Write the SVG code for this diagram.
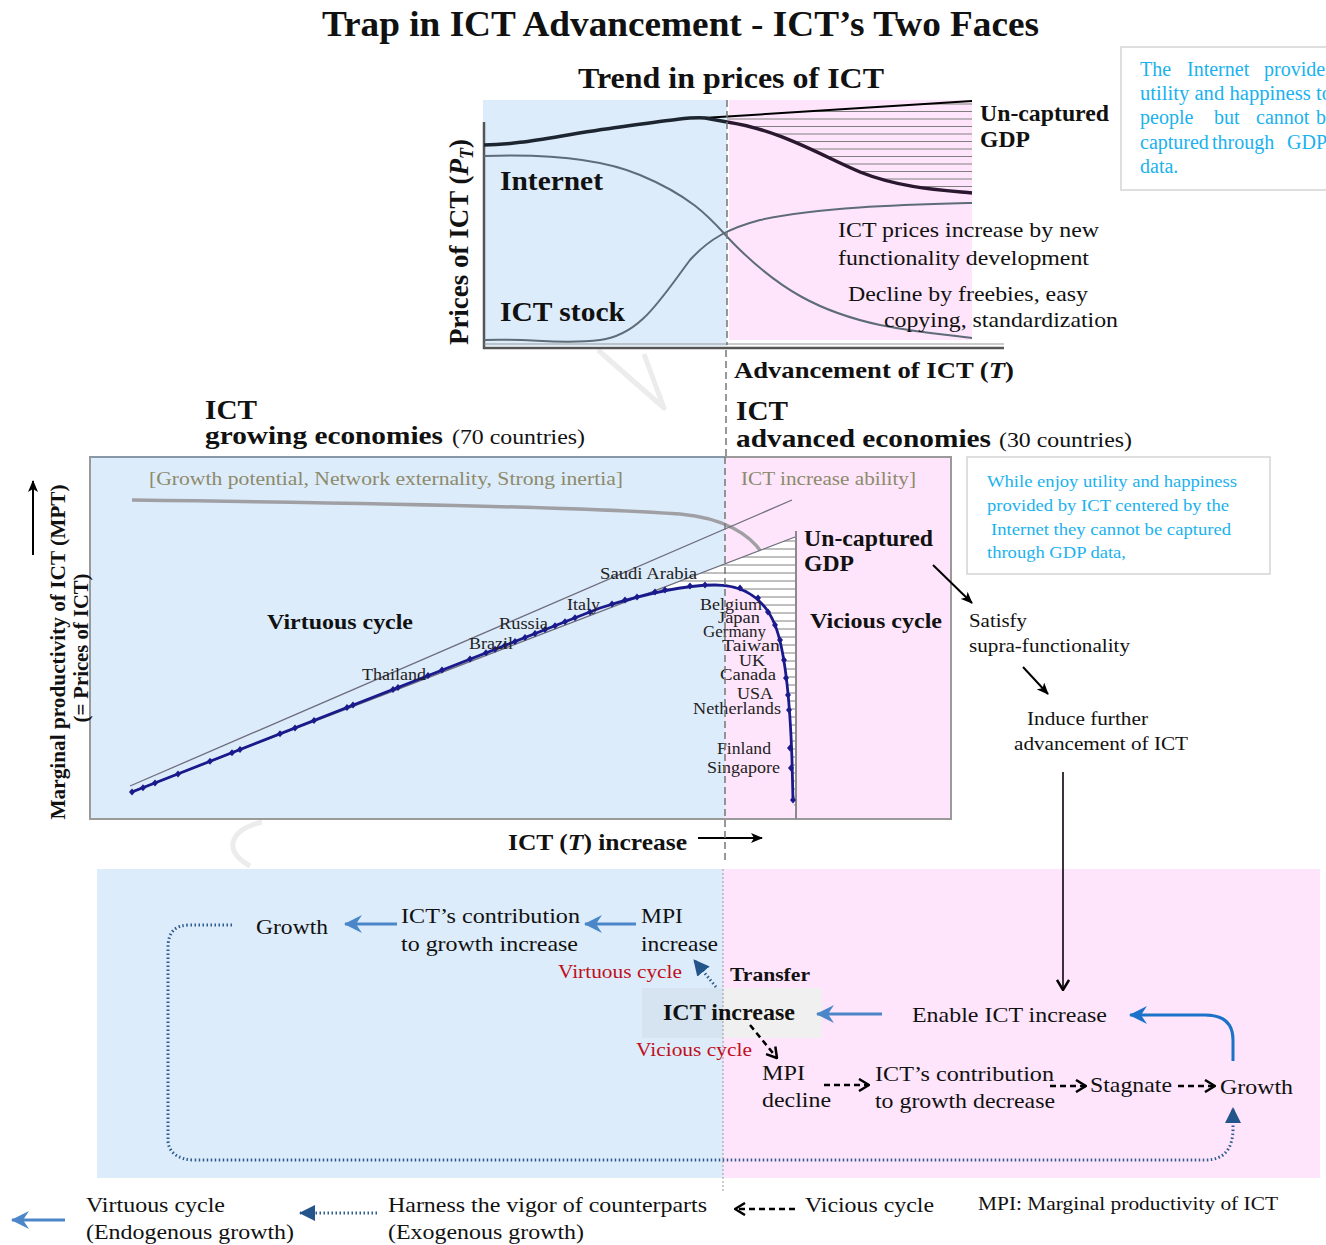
<svg xmlns="http://www.w3.org/2000/svg" width="1326" height="1245" viewBox="0 0 1326 1245">
  <style>
    text { font-family: "Liberation Serif", "Times New Roman", serif; fill: #111; }
    .b { font-weight: bold; }
    .cy { fill: #1AB2EE; font-size: 20px; }
    .cy2 { fill: #1AB2EE; font-size: 17px; }
    .ol { fill: #8C8A6C; font-size: 19px; }
    .red { fill: #C0101C; font-size: 19px; }
    .cty { font-size: 16.5px; fill: #222; }
    .lbl { font-size: 21px; }
    .hatch line { stroke: #808080; stroke-width: 1; }
    .dv { stroke: #777; stroke-width: 1.5; stroke-dasharray: 7 4; }
    .bl { stroke: #4A86C8; stroke-width: 3; fill: none; }
    .dsh { stroke: #000; stroke-width: 2.5; stroke-dasharray: 6 4; fill: none; }
    .dot { stroke: #2E5C8F; stroke-width: 3; stroke-dasharray: 1.5 2.5; fill: none; }
    .ar { stroke: #000; stroke-width: 2; fill: none; }
  </style>
  <defs>
    <marker id="mBlk" viewBox="0 0 12 10" refX="11" refY="5" markerWidth="12" markerHeight="10" markerUnits="userSpaceOnUse" orient="auto">
      <path d="M0,0 L12,5 L0,10 L3,5 Z" fill="#000"/>
    </marker>
    <marker id="mBlue" viewBox="0 0 18 18" refX="17" refY="9" markerWidth="18" markerHeight="18" markerUnits="userSpaceOnUse" orient="auto">
      <path d="M18,9 L0,0 L6,9 L0,18 Z" fill="#4A86C8"/>
    </marker>
    <marker id="mBlue2" viewBox="0 0 18 18" refX="17" refY="9" markerWidth="18" markerHeight="18" markerUnits="userSpaceOnUse" orient="auto">
      <path d="M18,9 L0,0 L6,9 L0,18 Z" fill="#1A73C8"/>
    </marker>
    <marker id="mTri" viewBox="0 0 16 16" refX="15" refY="8" markerWidth="16" markerHeight="16" markerUnits="userSpaceOnUse" orient="auto">
      <path d="M0,0 L16,8 L0,16 Z" fill="#24558A"/>
    </marker>
    <marker id="mChev" viewBox="0 0 12 14" refX="11" refY="7" markerWidth="12" markerHeight="14" markerUnits="userSpaceOnUse" orient="auto">
      <path d="M1,1 L11,7 L1,13" stroke="#000" stroke-width="2.5" fill="none"/>
    </marker>
    <path id="dia" d="M0,-3.5 L3,0 L0,3.5 L-3,0 Z" fill="#1A1A8C"/>
    <clipPath id="clipTop">
      <path d="M727,117 L972,101 L972,193 C940,190 900,188 860,172 C820,155 780,130 727,122 Z"/>
    </clipPath>
    <clipPath id="clipMid">
      <path d="M650,593 L795,537 L795,812 L793,800 L792,760 C790,700 785,650 775,625 C765,600 745,585 715,585 C690,585 670,589 650,593 Z"/>
    </clipPath>
  </defs>

  <!-- title -->
  <g id="title">
    <text class="b" x="322" y="36" font-size="35" textLength="717" lengthAdjust="spacingAndGlyphs">Trap in ICT Advancement - ICT&#8217;s Two Faces</text>
  </g>

  <!-- faint background marks -->
  <g id="marks" fill="none" stroke="#ececec" stroke-width="5" stroke-linejoin="round">
    <path d="M598,350 L664,408 L644,354"/>
    <path d="M262,822 C230,830 222,850 250,866"/>
  </g>

  <!-- price trend chart -->
  <g id="trend-chart">
    <text class="b" x="578" y="88" font-size="30" textLength="306" lengthAdjust="spacingAndGlyphs">Trend in prices of ICT</text>
    <rect x="483" y="100" width="244" height="246" fill="#DDECFB"/>
    <rect x="729" y="100" width="243" height="240" fill="#FEE5FB"/>
    <g class="hatch" clip-path="url(#clipTop)">
      <line x1="727" y1="104" x2="972" y2="104"/>
      <line x1="727" y1="111.5" x2="972" y2="111.5"/>
      <line x1="727" y1="119" x2="972" y2="119"/>
      <line x1="727" y1="126.5" x2="972" y2="126.5"/>
      <line x1="727" y1="134" x2="972" y2="134"/>
      <line x1="727" y1="141.5" x2="972" y2="141.5"/>
      <line x1="727" y1="149" x2="972" y2="149"/>
      <line x1="727" y1="156.5" x2="972" y2="156.5"/>
      <line x1="727" y1="164" x2="972" y2="164"/>
      <line x1="727" y1="171.5" x2="972" y2="171.5"/>
      <line x1="727" y1="179" x2="972" y2="179"/>
      <line x1="727" y1="186.5" x2="972" y2="186.5"/>
    </g>
    <!-- axes -->
    <path d="M484,122 L484,348 L1004,348" stroke="#555" stroke-width="2.5" fill="none"/>
    <line x1="484" y1="344" x2="1004" y2="344" stroke="#999" stroke-width="1"/>
    <!-- curves -->
    <path d="M484,156 C540,154 600,158 640,175 C700,200 715,225 735,245 C780,290 820,312 880,325 C920,333 950,335 972,338" stroke="#5E6B78" stroke-width="2" fill="none"/>
    <path d="M484,340 C530,338 560,345 600,340 C640,335 660,300 690,260 C710,238 730,228 760,220 C820,207 900,205 972,203" stroke="#5E6B78" stroke-width="2" fill="none"/>
    <line x1="703" y1="118" x2="972" y2="101" stroke="#000" stroke-width="2"/>
    <path d="M484,145 C520,145 560,135 620,127 C670,120 690,117 705,118 L727,122" stroke="#1D2630" stroke-width="3.5" fill="none"/>
    <path d="M727,122 C780,130 820,155 860,172 C900,188 940,190 972,193" stroke="#2A1730" stroke-width="3.5" fill="none"/>
    <text class="b" x="500" y="190" font-size="27" textLength="103" lengthAdjust="spacingAndGlyphs">Internet</text>
    <text class="b" x="500" y="321" font-size="27" textLength="125" lengthAdjust="spacingAndGlyphs">ICT stock</text>
    <text class="b" transform="translate(468,242) rotate(-90)" font-size="27" text-anchor="middle">Prices of ICT (<tspan font-style="italic">P</tspan><tspan font-style="italic" font-size="18" dy="5">T</tspan><tspan dy="-5">)</tspan></text>
    <text class="b" x="980" y="121" font-size="23" textLength="129" lengthAdjust="spacingAndGlyphs">Un-captured</text>
    <text class="b" x="980" y="147" font-size="23" textLength="50" lengthAdjust="spacingAndGlyphs">GDP</text>
    <text x="838" y="237" font-size="22" textLength="261" lengthAdjust="spacingAndGlyphs">ICT prices increase by new</text>
    <text x="838" y="265" font-size="22" textLength="251" lengthAdjust="spacingAndGlyphs">functionality development</text>
    <text x="848" y="301" font-size="22" textLength="240" lengthAdjust="spacingAndGlyphs">Decline by freebies, easy</text>
    <text x="884" y="327" font-size="22" textLength="234" lengthAdjust="spacingAndGlyphs">copying, standardization</text>
    <text class="b" transform="translate(734,378) scale(1.11,1)" font-size="24">Advancement of ICT (<tspan font-style="italic">T</tspan>)</text>
  </g>

  <!-- note: the Internet -->
  <g id="note-internet">
    <rect x="1121" y="47" width="215" height="143" fill="#fff" stroke="#d4d4d4" stroke-width="1.5"/>
    <text class="cy" y="76"><tspan x="1140">The</tspan><tspan x="1187">Internet</tspan><tspan x="1264">provides</tspan></text>
    <text class="cy" x="1140" y="100" textLength="192" lengthAdjust="spacingAndGlyphs">utility and happiness to</text>
    <text class="cy" y="124"><tspan x="1140">people</tspan><tspan x="1214">but</tspan><tspan x="1256">cannot</tspan><tspan x="1316">be</tspan></text>
    <text class="cy" y="149"><tspan x="1140">captured</tspan><tspan x="1212">through</tspan><tspan x="1287">GDP</tspan></text>
    <text class="cy" x="1140" y="173">data.</text>
  </g>

  <!-- economy group headings -->
  <g id="heading-growing">
    <text class="b" x="205" y="419" font-size="28" textLength="52" lengthAdjust="spacingAndGlyphs">ICT</text>
    <text class="b" x="205" y="444" font-size="26" textLength="238" lengthAdjust="spacingAndGlyphs">growing economies</text>
    <text x="452" y="444" font-size="21" textLength="133" lengthAdjust="spacingAndGlyphs">(70 countries)</text>
  </g>
  <g id="heading-advanced">
    <text class="b" x="736" y="420" font-size="28" textLength="52" lengthAdjust="spacingAndGlyphs">ICT</text>
    <text class="b" x="736" y="447" font-size="26" textLength="255" lengthAdjust="spacingAndGlyphs">advanced economies</text>
    <text x="999" y="447" font-size="21" textLength="133" lengthAdjust="spacingAndGlyphs">(30 countries)</text>
  </g>

  <!-- marginal productivity chart -->
  <g id="mpt-chart">
    <rect x="90" y="457" width="635" height="362" fill="#DDECFB"/>
    <rect x="725" y="457" width="226" height="362" fill="#FEE5FB"/>
    <rect x="90" y="457" width="861" height="362" fill="none" stroke="#9A9A9A" stroke-width="2"/>
    <line x1="90" y1="457" x2="725" y2="457" stroke="#8898A8" stroke-width="2"/>
    <text class="ol" x="149" y="485" textLength="474" lengthAdjust="spacingAndGlyphs">[Growth potential, Network externality,  Strong inertia]</text>
    <text class="ol" x="741" y="485" textLength="175" lengthAdjust="spacingAndGlyphs">ICT increase ability]</text>
    <path d="M132,500 C300,502 560,506 680,514 C725,518 750,535 762,553" stroke="#A0A0A4" stroke-width="3.5" fill="none"/>
    <!-- hatched un-captured area -->
    <path d="M650,593 L795,537 L795,812 L793,800 L792,760 C790,700 785,650 775,625 C765,600 745,585 715,585 C690,585 670,589 650,593 Z" fill="#fff"/>
    <g class="hatch" clip-path="url(#clipMid)">
      <line x1="640" y1="541" x2="800" y2="541"/>
      <line x1="640" y1="549" x2="800" y2="549"/>
      <line x1="640" y1="557" x2="800" y2="557"/>
      <line x1="640" y1="565" x2="800" y2="565"/>
      <line x1="640" y1="573" x2="800" y2="573"/>
      <line x1="640" y1="581" x2="800" y2="581"/>
      <line x1="640" y1="589" x2="800" y2="589"/>
      <line x1="640" y1="597" x2="800" y2="597"/>
      <line x1="640" y1="605" x2="800" y2="605"/>
      <line x1="640" y1="613" x2="800" y2="613"/>
      <line x1="640" y1="621" x2="800" y2="621"/>
      <line x1="640" y1="629" x2="800" y2="629"/>
      <line x1="640" y1="637" x2="800" y2="637"/>
      <line x1="640" y1="645" x2="800" y2="645"/>
      <line x1="640" y1="653" x2="800" y2="653"/>
      <line x1="640" y1="661" x2="800" y2="661"/>
      <line x1="640" y1="669" x2="800" y2="669"/>
      <line x1="640" y1="677" x2="800" y2="677"/>
      <line x1="640" y1="685" x2="800" y2="685"/>
      <line x1="640" y1="693" x2="800" y2="693"/>
      <line x1="640" y1="701" x2="800" y2="701"/>
      <line x1="640" y1="709" x2="800" y2="709"/>
      <line x1="640" y1="717" x2="800" y2="717"/>
      <line x1="640" y1="725" x2="800" y2="725"/>
      <line x1="640" y1="733" x2="800" y2="733"/>
      <line x1="640" y1="741" x2="800" y2="741"/>
      <line x1="640" y1="749" x2="800" y2="749"/>
      <line x1="640" y1="757" x2="800" y2="757"/>
      <line x1="640" y1="765" x2="800" y2="765"/>
      <line x1="640" y1="773" x2="800" y2="773"/>
      <line x1="640" y1="781" x2="800" y2="781"/>
      <line x1="640" y1="789" x2="800" y2="789"/>
      <line x1="640" y1="797" x2="800" y2="797"/>
      <line x1="640" y1="805" x2="800" y2="805"/>
    </g>
    <line x1="796" y1="531" x2="796" y2="819" stroke="#8A8A8A" stroke-width="2"/>
    <!-- trend lines -->
    <line x1="130" y1="786" x2="792" y2="500" stroke="#6E6E7E" stroke-width="1.3"/>
    <line x1="130" y1="792" x2="795" y2="537" stroke="#6E6E7E" stroke-width="1.3"/>
    <!-- country data -->
    <path d="M132,792 L600,608 C650,592 690,585 715,585 C745,585 765,600 775,625 C785,650 790,700 792,760 L793,800" stroke="#1A1A8C" stroke-width="2.8" fill="none"/>
    <g id="points">
      <use href="#dia" x="132" y="792"/><use href="#dia" x="143" y="787.7"/><use href="#dia" x="155" y="783"/>
      <use href="#dia" x="178" y="773.9"/><use href="#dia" x="210" y="761.3"/><use href="#dia" x="232" y="752.7"/>
      <use href="#dia" x="240" y="749.5"/><use href="#dia" x="280" y="733.8"/><use href="#dia" x="295" y="727.9"/>
      <use href="#dia" x="314" y="720.4"/><use href="#dia" x="347" y="707.5"/><use href="#dia" x="353" y="705.1"/>
      <use href="#dia" x="393" y="689.4"/><use href="#dia" x="398" y="687.4"/><use href="#dia" x="428" y="675.6"/>
      <use href="#dia" x="442" y="670.1"/><use href="#dia" x="470" y="659.1"/><use href="#dia" x="486" y="652.8"/>
      <use href="#dia" x="495" y="649.3"/><use href="#dia" x="505" y="645.3"/><use href="#dia" x="515" y="641.4"/>
      <use href="#dia" x="525" y="637.5"/><use href="#dia" x="535" y="633.5"/><use href="#dia" x="545" y="629.6"/>
      <use href="#dia" x="555" y="625.7"/><use href="#dia" x="565" y="621.7"/><use href="#dia" x="575" y="617.8"/>
      <use href="#dia" x="590" y="611.9"/><use href="#dia" x="612" y="604"/><use href="#dia" x="625" y="600"/>
      <use href="#dia" x="637" y="597"/><use href="#dia" x="655" y="592"/><use href="#dia" x="665" y="590"/>
      <use href="#dia" x="690" y="586"/><use href="#dia" x="705" y="585"/><use href="#dia" x="740" y="588"/>
      <use href="#dia" x="758" y="598"/><use href="#dia" x="768" y="612"/><use href="#dia" x="775" y="625"/>
      <use href="#dia" x="780" y="640"/><use href="#dia" x="784" y="660"/><use href="#dia" x="786" y="678"/>
      <use href="#dia" x="788" y="695"/><use href="#dia" x="789" y="710"/><use href="#dia" x="790" y="748"/>
      <use href="#dia" x="791" y="768"/><use href="#dia" x="793" y="800"/>
    </g>
    <text class="cty" x="600" y="579" textLength="97" lengthAdjust="spacingAndGlyphs">Saudi Arabia</text>
    <text class="cty" x="567" y="610" textLength="33" lengthAdjust="spacingAndGlyphs">Italy</text>
    <text class="cty" x="499" y="629" textLength="49" lengthAdjust="spacingAndGlyphs">Russia</text>
    <text class="cty" x="469" y="649" textLength="44" lengthAdjust="spacingAndGlyphs">Brazil</text>
    <text class="cty" x="362" y="680" textLength="64" lengthAdjust="spacingAndGlyphs">Thailand</text>
    <text class="cty" x="700" y="610" textLength="62" lengthAdjust="spacingAndGlyphs">Belgium</text>
    <text class="cty" x="718" y="623" textLength="42" lengthAdjust="spacingAndGlyphs">Japan</text>
    <text class="cty" x="703" y="637" textLength="63" lengthAdjust="spacingAndGlyphs">Germany</text>
    <text class="cty" x="722" y="651" textLength="58" lengthAdjust="spacingAndGlyphs">Taiwan</text>
    <text class="cty" x="739" y="666" textLength="26" lengthAdjust="spacingAndGlyphs">UK</text>
    <text class="cty" x="720" y="680" textLength="56" lengthAdjust="spacingAndGlyphs">Canada</text>
    <text class="cty" x="737" y="699" textLength="36" lengthAdjust="spacingAndGlyphs">USA</text>
    <text class="cty" x="693" y="714" textLength="88" lengthAdjust="spacingAndGlyphs">Netherlands</text>
    <text class="cty" x="717" y="754" textLength="54" lengthAdjust="spacingAndGlyphs">Finland</text>
    <text class="cty" x="707" y="773" textLength="73" lengthAdjust="spacingAndGlyphs">Singapore</text>
    <text class="b" x="267" y="629" font-size="22" textLength="146" lengthAdjust="spacingAndGlyphs">Virtuous cycle</text>
    <text class="b" x="810" y="628" font-size="22" textLength="132" lengthAdjust="spacingAndGlyphs">Vicious cycle</text>
    <text class="b" x="804" y="546" font-size="23" textLength="129" lengthAdjust="spacingAndGlyphs">Un-captured</text>
    <text class="b" x="804" y="571" font-size="23" textLength="50" lengthAdjust="spacingAndGlyphs">GDP</text>
    <!-- axis titles -->
    <line x1="33" y1="555" x2="33" y2="481" class="ar" marker-end="url(#mBlk)"/>
    <text class="b" transform="translate(65,652) rotate(-90)" font-size="21" text-anchor="middle" textLength="335" lengthAdjust="spacingAndGlyphs">Marginal productivity of ICT (MPT)</text>
    <text class="b" transform="translate(88,648) rotate(-90)" font-size="21" text-anchor="middle" textLength="149" lengthAdjust="spacingAndGlyphs">(= Prices of ICT)</text>
    <text class="b" transform="translate(508,850) scale(1.11,1)" font-size="23">ICT (<tspan font-style="italic">T</tspan>) increase</text>
    <line x1="698" y1="838" x2="762" y2="838" class="ar" marker-end="url(#mBlk)"/>
  </g>

  <!-- note: un-captured utility -->
  <g id="note-utility">
    <rect x="967" y="457" width="303" height="117" fill="#fff" stroke="#d4d4d4" stroke-width="1.5"/>
    <text class="cy2" x="987" y="487" textLength="250" lengthAdjust="spacingAndGlyphs">While enjoy utility and happiness</text>
    <text class="cy2" x="987" y="511" textLength="242" lengthAdjust="spacingAndGlyphs">provided by ICT centered by the</text>
    <text class="cy2" x="991" y="535" textLength="240" lengthAdjust="spacingAndGlyphs">Internet they cannot be captured</text>
    <text class="cy2" x="987" y="558" textLength="139" lengthAdjust="spacingAndGlyphs">through GDP data,</text>
  </g>

  <g id="satisfy">
    <text x="969" y="627" font-size="19" textLength="58" lengthAdjust="spacingAndGlyphs">Satisfy</text>
    <text x="969" y="652" font-size="19" textLength="161" lengthAdjust="spacingAndGlyphs">supra-functionality</text>
  </g>
  <g id="induce">
    <text x="1027" y="725" font-size="19" textLength="121" lengthAdjust="spacingAndGlyphs">Induce further</text>
    <text x="1014" y="750" font-size="19" textLength="174" lengthAdjust="spacingAndGlyphs">advancement of ICT</text>
  </g>

  <!-- bottom cycle panel -->
  <g id="cycle-panel">
    <rect x="97" y="869" width="626" height="309" fill="#DDECFB"/>
    <rect x="723" y="869" width="597" height="309" fill="#FEE5FB"/>
    <rect x="642" y="988" width="81" height="50" fill="#D6E3F0"/>
    <rect x="723" y="988" width="99" height="50" fill="#F0F0F0"/>
  </g>

  <!-- divider between growing and advanced economies -->
  <g id="divider">
    <line x1="727" y1="100" x2="727" y2="345" class="dv"/>
    <line x1="726" y1="350" x2="726" y2="457" class="dv"/>
    <line x1="725" y1="457" x2="725" y2="860" class="dv"/>
    <line x1="723" y1="869" x2="723" y2="1192" stroke="#999" stroke-width="1" stroke-dasharray="2 2"/>
  </g>

  <g id="node-growth-v"><text class="lbl" x="256" y="934" textLength="72" lengthAdjust="spacingAndGlyphs">Growth</text></g>
  <g id="node-contrib-inc">
    <text class="lbl" x="401" y="923" textLength="179" lengthAdjust="spacingAndGlyphs">ICT&#8217;s contribution</text>
    <text class="lbl" x="401" y="951" textLength="177" lengthAdjust="spacingAndGlyphs">to growth increase</text>
  </g>
  <g id="node-mpi-inc">
    <text class="lbl" x="641" y="923" textLength="42" lengthAdjust="spacingAndGlyphs">MPI</text>
    <text class="lbl" x="641" y="951" textLength="77" lengthAdjust="spacingAndGlyphs">increase</text>
  </g>
  <g id="node-ict-inc">
    <text class="b" x="663" y="1020" font-size="23" textLength="132" lengthAdjust="spacingAndGlyphs">ICT increase</text>
  </g>
  <g id="node-enable">
    <text class="lbl" x="912" y="1022" textLength="195" lengthAdjust="spacingAndGlyphs">Enable ICT increase</text>
  </g>
  <g id="node-mpi-dec">
    <text class="lbl" x="762" y="1080" textLength="43" lengthAdjust="spacingAndGlyphs">MPI</text>
    <text class="lbl" x="762" y="1107" textLength="69" lengthAdjust="spacingAndGlyphs">decline</text>
  </g>
  <g id="node-contrib-dec">
    <text class="lbl" x="875" y="1081" textLength="179" lengthAdjust="spacingAndGlyphs">ICT&#8217;s contribution</text>
    <text class="lbl" x="875" y="1108" textLength="180" lengthAdjust="spacingAndGlyphs">to growth decrease</text>
  </g>
  <g id="node-stagnate"><text class="lbl" x="1090" y="1092" textLength="82" lengthAdjust="spacingAndGlyphs">Stagnate</text></g>
  <g id="node-growth-a"><text class="lbl" x="1220" y="1094" textLength="73" lengthAdjust="spacingAndGlyphs">Growth</text></g>
  <g id="labels-cycle">
    <text class="red" x="558" y="978" textLength="124" lengthAdjust="spacingAndGlyphs">Virtuous cycle</text>
    <text class="red" x="636" y="1056" textLength="116" lengthAdjust="spacingAndGlyphs">Vicious cycle</text>
    <text class="b" x="730" y="981" font-size="18" textLength="80" lengthAdjust="spacingAndGlyphs">Transfer</text>
  </g>

  <!-- connectors -->
  <g id="connectors">
    <line x1="933" y1="565" x2="972" y2="603" class="ar" marker-end="url(#mBlk)"/>
    <line x1="1023" y1="667" x2="1048" y2="694" class="ar" marker-end="url(#mBlk)"/>
    <line x1="1063" y1="772" x2="1063" y2="990" stroke="#2A1A2A" stroke-width="1.8" marker-end="url(#mChev)"/>
    <line x1="397" y1="924" x2="345" y2="924" class="bl" marker-end="url(#mBlue)"/>
    <line x1="636" y1="924" x2="585" y2="924" class="bl" marker-end="url(#mBlue)"/>
    <line x1="882" y1="1014" x2="817" y2="1014" class="bl" marker-end="url(#mBlue)"/>
    <path d="M1233,1061 L1233,1040 C1233,1025 1225,1015 1205,1015 L1130,1015" stroke="#1A73C8" stroke-width="3" fill="none" marker-end="url(#mBlue2)"/>
    <line x1="716" y1="987" x2="694" y2="960" class="dot" marker-end="url(#mTri)"/>
    <line x1="750" y1="1025" x2="777" y2="1058" class="dsh" marker-end="url(#mChev)"/>
    <line x1="824" y1="1085" x2="869" y2="1085" class="dsh" marker-end="url(#mChev)"/>
    <line x1="1050" y1="1086" x2="1086" y2="1086" class="dsh" marker-end="url(#mChev)"/>
    <line x1="1178" y1="1086" x2="1215" y2="1086" class="dsh" marker-end="url(#mChev)"/>
    <path d="M232,925 L190,925 C175,925 168,932 168,948 L168,1140 C168,1152 178,1160 195,1160 L1205,1160 C1225,1160 1233,1148 1233,1128 L1233,1108" class="dot" marker-end="url(#mTri)"/>
  </g>

  <!-- legend -->
  <g id="legend">
    <line x1="65" y1="1220" x2="12" y2="1220" class="bl" marker-end="url(#mBlue)"/>
    <text class="lbl" x="86" y="1212" textLength="139" lengthAdjust="spacingAndGlyphs">Virtuous cycle</text>
    <text class="lbl" x="86" y="1239" textLength="208" lengthAdjust="spacingAndGlyphs">(Endogenous growth)</text>
    <line x1="377" y1="1213" x2="300" y2="1213" class="dot" marker-end="url(#mTri)"/>
    <text class="lbl" x="388" y="1212" textLength="319" lengthAdjust="spacingAndGlyphs">Harness the vigor of counterparts</text>
    <text class="lbl" x="388" y="1239" textLength="196" lengthAdjust="spacingAndGlyphs">(Exogenous growth)</text>
    <line x1="795" y1="1209" x2="735" y2="1209" class="dsh" marker-end="url(#mChev)"/>
    <text class="lbl" x="805" y="1212" textLength="129" lengthAdjust="spacingAndGlyphs">Vicious cycle</text>
    <text x="978" y="1210" font-size="19" textLength="300" lengthAdjust="spacingAndGlyphs">MPI: Marginal productivity of ICT</text>
  </g>
</svg>
